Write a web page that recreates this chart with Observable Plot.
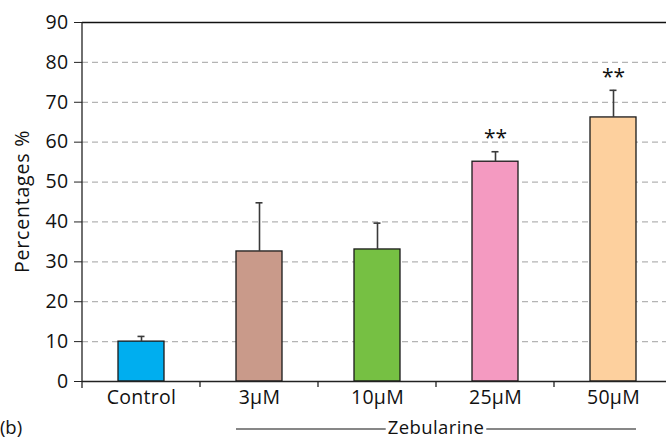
<!DOCTYPE html>
<html>
<head>
<meta charset="utf-8">
<script src="https://cdn.jsdelivr.net/npm/d3@7"></script>
<script src="https://cdn.jsdelivr.net/npm/@observablehq/plot@0.6"></script>
<style>
  html, body { margin: 0; padding: 0; background: #fff; }
  svg { font-family: "Open Sans", sans-serif; }
  #chart svg g[aria-label$="tick label"] { font-size: 19.5px; fill: #111; letter-spacing: 0.3px; }
</style>
</head>
<body>
<div id="chart"></div>
<script>
const categories = ["Control", "3\u00b5M", "10\u00b5M", "25\u00b5M", "50\u00b5M"];
const values = [10.0, 32.6, 33.1, 55.1, 66.2];
const errors = [1.3, 12.2, 6.6, 2.5, 6.8];
const significance = ["", "", "", "**", "**"];
const colors = ["#00aeef", "#c99a8a", "#76c043", "#f49ac1", "#fdd09e"];
const yTicks = [0, 10, 20, 30, 40, 50, 60, 70, 80, 90];
const gridTicks = [10, 20, 30, 40, 50, 60, 70, 80];
const yLabel = "Percentages %";
const groupLabel = "Zebularine";
const groupMembers = ["3\u00b5M", "50\u00b5M"];
const panelLabel = "(b)";

const data = categories.map((c, i) => ({
  cat: c, value: values[i], err: errors[i], top: values[i] + errors[i], sig: significance[i]
}));

const W = 666, H = 441, mL = 82, mT = 22, mB = 60;
const FS = 19.5;

const plot = Plot.plot({
  width: W,
  height: H,
  marginLeft: mL,
  marginRight: 0,
  marginTop: mT,
  marginBottom: mB,
  style: { fontFamily: "Open Sans, sans-serif", fontSize: FS + "px", color: "#111", background: "#fff" },
  x: { type: "band", domain: categories, range: [mL, mL + 5 * 118], paddingInner: 0.61, paddingOuter: 0.305 },
  y: { domain: [0, 90] },
  color: { domain: categories, range: colors },
  marks: [
    Plot.ruleY(gridTicks, { stroke: "#b4b4b4", strokeWidth: 1.2, strokeDasharray: "6,4" }),
    Plot.ruleY([90], { stroke: "#111", strokeWidth: 1.3 }),
    Plot.barY(data, { x: "cat", y: "value", fill: "cat", stroke: "#1a1a1a", strokeWidth: 1.3 }),
    Plot.ruleX(data, { x: "cat", y1: "value", y2: "top", stroke: "#3a3a3a", strokeWidth: 1.6 }),
    Plot.tickY(data, { x: "cat", y: "top", stroke: "#3a3a3a", strokeWidth: 1.6, insetLeft: 19.5, insetRight: 19.5 }),
    Plot.text(data, { x: "cat", y: "top", text: "sig", dy: -13, fontSize: 21, fill: "#111" }),
    Plot.ruleY([0], { stroke: "#222", strokeWidth: 1.3 }),
    Plot.axisY({ ticks: yTicks, tickSize: 8, tickPadding: 6, fontSize: FS, label: null, stroke: "#222" }),
    Plot.axisX({ tickSize: 0, tickPadding: 9, fontSize: FS, label: null })
  ]
});

const svg = d3.select(plot);
const x = plot.scale("x");
const y = plot.scale("y");
const y0 = y.apply(0), y90 = y.apply(90);
const xL = x.range[0];

// left axis line
svg.append("line").attr("x1", xL).attr("x2", xL).attr("y1", y90).attr("y2", y0 + 7)
  .attr("stroke", "#222").attr("stroke-width", 1.3);

// boundary ticks on x axis
categories.slice(1).forEach(c => {
  const bx = x.apply(c) - (x.step - x.bandwidth) / 2;
  svg.append("line").attr("x1", bx).attr("x2", bx).attr("y1", y0).attr("y2", y0 + 6)
    .attr("stroke", "#222").attr("stroke-width", 1.3);
});

// y label
svg.append("text").attr("transform", `translate(24,${(y0 + y90) / 2}) rotate(-90)`)
  .attr("text-anchor", "middle").attr("dominant-baseline", "middle")
  .attr("font-size", 19.5).attr("letter-spacing", "0.8px").attr("fill", "#111").text(yLabel);

// group bracket
const gx1 = x.apply(groupMembers[0]);
const gx2 = x.apply(groupMembers[1]) + x.bandwidth;
const gcx = (gx1 + gx2) / 2;
const gy = y0 + 48;
const g = svg.append("g");
const t = g.append("text").attr("x", gcx).attr("y", gy).attr("text-anchor", "middle")
  .attr("dominant-baseline", "middle").attr("font-size", 18.5).attr("letter-spacing", "0.4px")
  .attr("fill", "#111").text(groupLabel);
document.getElementById("chart").appendChild(plot);
const bb = t.node().getBBox();
g.append("line").attr("x1", gx1).attr("x2", bb.x - 2).attr("y1", gy).attr("y2", gy).attr("stroke", "#111").attr("stroke-width", 1.2);
g.append("line").attr("x1", bb.x + bb.width + 2).attr("x2", gx2).attr("y1", gy).attr("y2", gy).attr("stroke", "#111").attr("stroke-width", 1.2);

// panel label
svg.append("text").attr("x", 11).attr("y", gy).attr("dominant-baseline", "middle")
  .attr("font-size", 18.5).attr("fill", "#111").text(panelLabel);
</script>
</body>
</html>
